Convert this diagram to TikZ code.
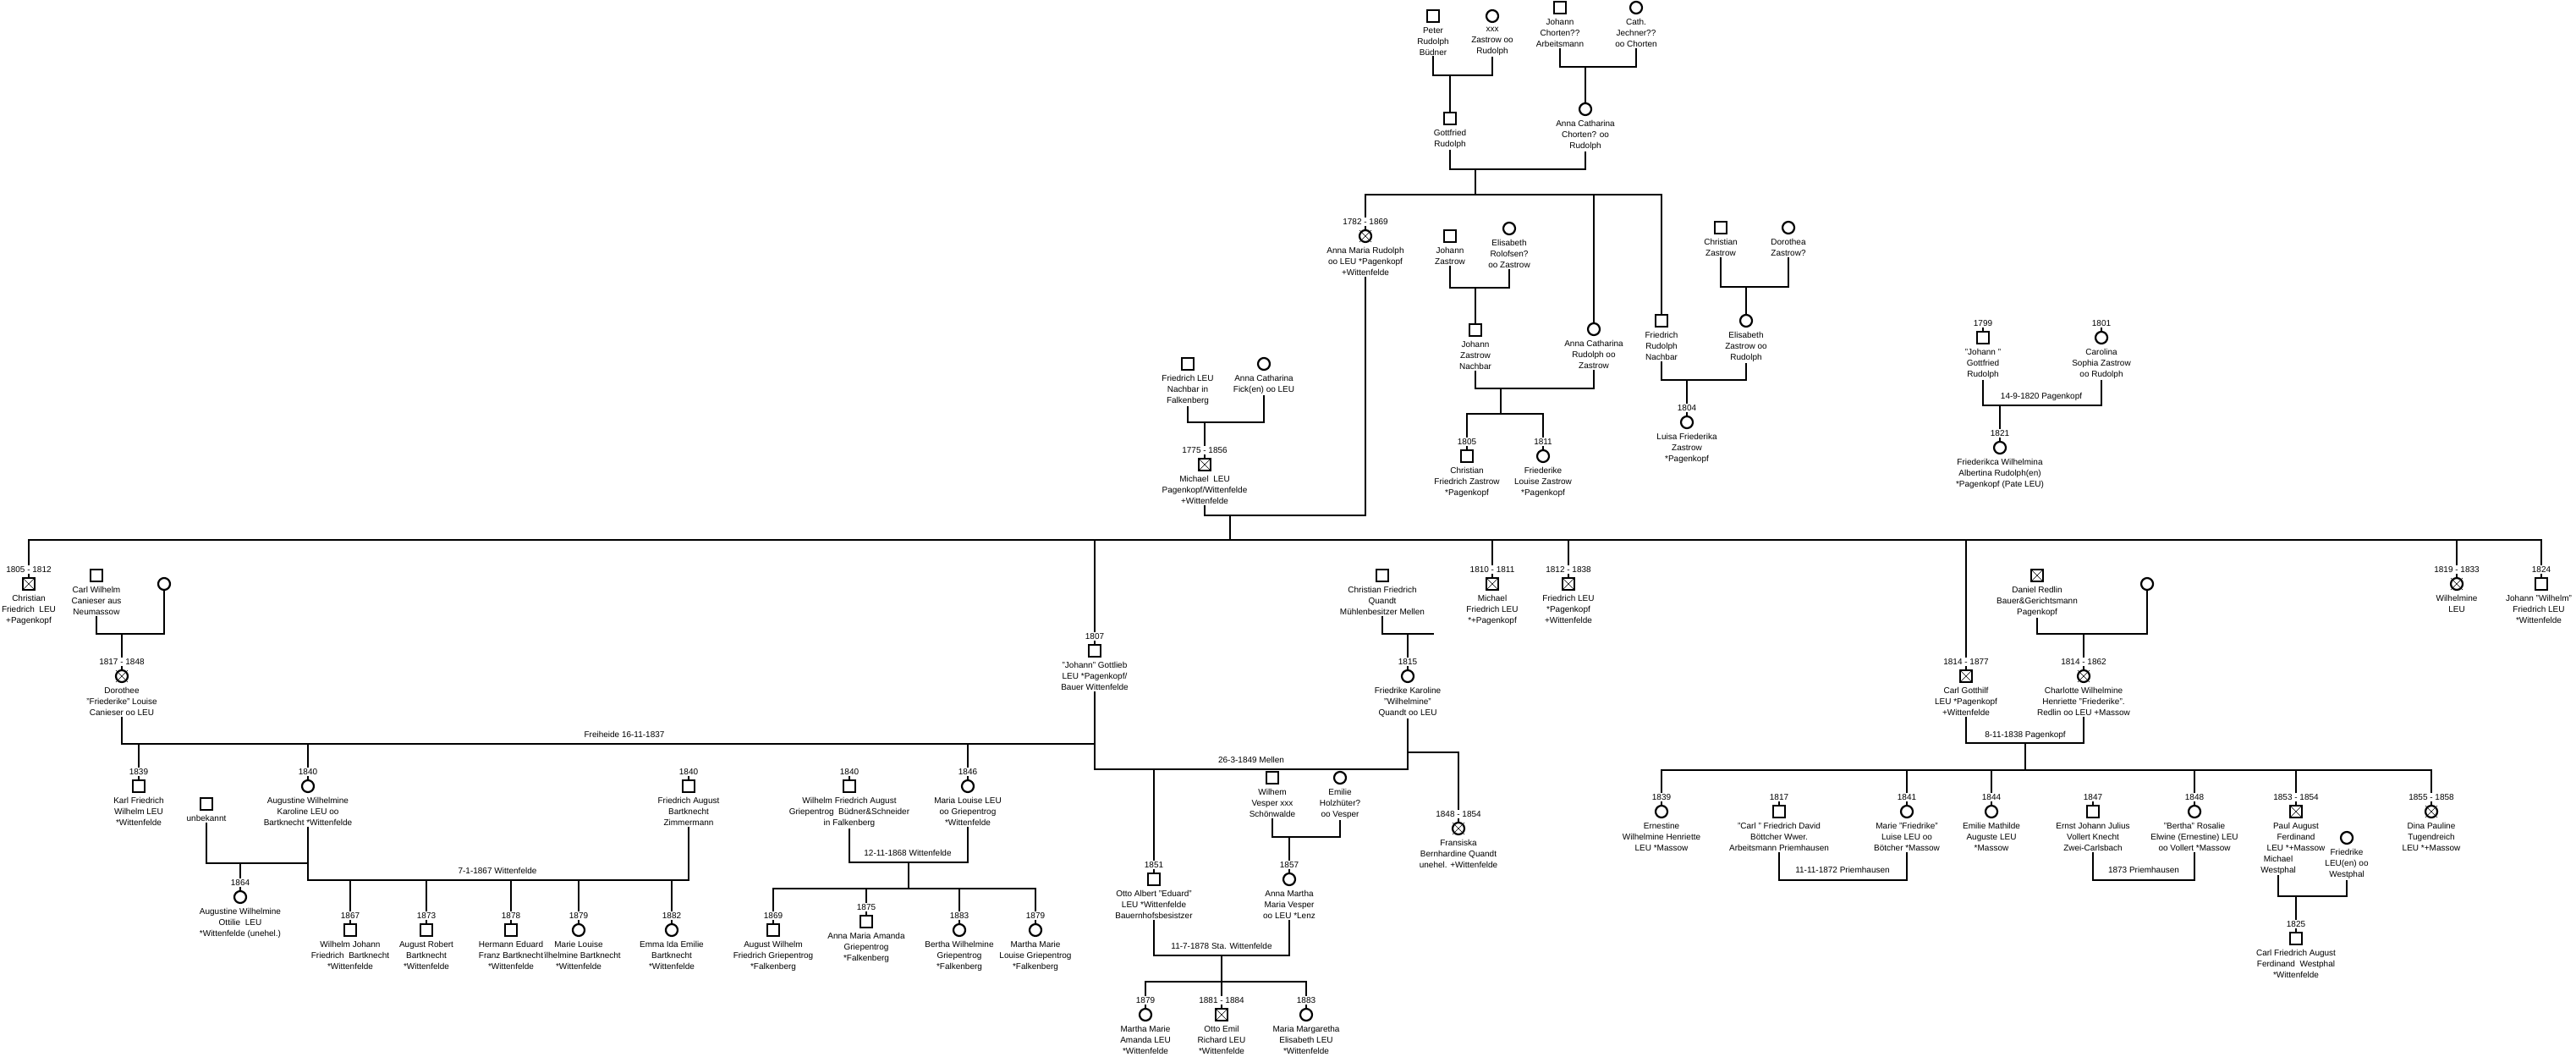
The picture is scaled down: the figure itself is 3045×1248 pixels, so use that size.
\documentclass[tikz,border=0pt]{standalone}
\usepackage{fontspec}
\setmainfont{Liberation Sans}
\usetikzlibrary{positioning}
\newcommand{\kreuz}[1]{\draw[kreuz] ([shift={(-7,-7)}]#1.center) -- ([shift={(7,7)}]#1.center) ([shift={(-7,7)}]#1.center) -- ([shift={(7,-7)}]#1.center);}
\begin{document}
\begin{tikzpicture}[x=1pt,y=1pt,
  mann/.style={draw, rectangle, line width=2.2pt, minimum size=14pt, inner sep=0pt},
  frau/.style={draw, circle, line width=2.2pt, minimum size=14pt, inner sep=0pt},
  info/.style={align=center, inner sep=1pt, font=\fontsize{10}{13}\selectfont},
  jahr/.style={inner sep=1pt, font=\fontsize{10}{13}\selectfont},
  linie/.style={line width=2.5pt},
  kreuz/.style={line width=0.6pt}]
\useasboundingbox (0,0) rectangle (3045,-1248);
\node[mann] (peter) at (1694,-19) {};
\node[info, below=4pt of peter] (peterT) {Peter\\Rudolph\\Büdner};
\node[frau] (xxx) at (1764,-19) {};
\node[info, below=4pt of xxx] (xxxT) {xxx\\Zastrow oo\\Rudolph};
\node[mann] (chorten) at (1844,-9) {};
\node[info, below=4pt of chorten] (chortenT) {Johann\\Chorten??\\Arbeitsmann};
\node[frau] (jechner) at (1934,-9) {};
\node[info, below=4pt of jechner] (jechnerT) {Cath.\\Jechner??\\oo Chorten};
\node[mann] (gottfried) at (1714,-140) {};
\node[info, below=4pt of gottfried] (gottfriedT) {Gottfried\\Rudolph};
\node[frau] (annaCh) at (1874,-129) {};
\node[info, below=4pt of annaCh] (annaChT) {Anna Catharina\\Chorten? oo\\Rudolph};
\coordinate (jRud) at (1714,-89);
\coordinate (jCho) at (1874,-79);
\coordinate (jGot) at (1744,-200);
\coordinate (bGot) at (1744,-230);
\draw[linie] (peterT.south) |- (jRud) -| (xxxT.south);
\draw[linie] (jRud) -- (gottfried.north);
\draw[linie] (chortenT.south) |- (jCho) -| (jechnerT.south);
\draw[linie] (jCho) -- (annaCh.north);
\draw[linie] (gottfriedT.south) |- (jGot) -| (annaChT.south);
\draw[linie] (jGot) -- (bGot);
\node[frau] (annaMaria) at (1614,-279) {};
\node[jahr, above=4pt of annaMaria] (annaMariaY) {1782 - 1869};
\node[info, below=4pt of annaMaria] (annaMariaT) {Anna Maria Rudolph\\oo LEU *Pagenkopf\\+Wittenfelde};
\kreuz{annaMaria}
\node[frau] (annaCR) at (1884,-389) {};
\node[info, below=4pt of annaCR] (annaCRT) {Anna Catharina\\Rudolph oo\\Zastrow};
\node[mann] (friedR) at (1964,-379) {};
\node[info, below=4pt of friedR] (friedRT) {Friedrich\\Rudolph\\Nachbar};
\draw[linie] (annaMariaY.north) |- (bGot);
\draw[linie] (annaMaria.north) -- (annaMariaY.south);
\draw[linie] (annaCR.north) |- (bGot);
\draw[linie] (friedR.north) |- (bGot);
\node[mann] (jzas) at (1714,-279) {};
\node[info, below=4pt of jzas] (jzasT) {Johann\\Zastrow};
\node[frau] (elisRol) at (1784,-270) {};
\node[info, below=4pt of elisRol] (elisRolT) {Elisabeth\\Rolofsen?\\oo Zastrow};
\coordinate (jZas) at (1744,-340);
\draw[linie] (jzasT.south) |- (jZas) -| (elisRolT.south);
\node[mann] (jzn) at (1744,-390) {};
\node[info, below=4pt of jzn] (jznT) {Johann\\Zastrow\\Nachbar};
\draw[linie] (jZas) -- (jzn.north);
\coordinate (jZN) at (1774,-459);
\coordinate (bZN) at (1774,-489);
\draw[linie] (jznT.south) |- (jZN) -| (annaCRT.south);
\draw[linie] (jZN) -- (bZN);
\node[mann] (chrZ) at (1734,-539) {};
\node[jahr, above=4pt of chrZ] (chrZY) {1805};
\node[info, below=4pt of chrZ] (chrZT) {Christian\\Friedrich Zastrow\\*Pagenkopf};
\node[frau] (frdZ) at (1824,-539) {};
\node[jahr, above=4pt of frdZ] (frdZY) {1811};
\node[info, below=4pt of frdZ] (frdZT) {Friederike\\Louise Zastrow\\*Pagenkopf};
\draw[linie] (chrZY.north) |- (bZN) -| (frdZY.north);
\draw[linie] (chrZ.north) -- (chrZY.south);
\draw[linie] (frdZ.north) -- (frdZY.south);
\node[mann] (chrZa) at (2034,-269) {};
\node[info, below=4pt of chrZa] (chrZaT) {Christian\\Zastrow};
\node[frau] (dorZ) at (2114,-269) {};
\node[info, below=4pt of dorZ] (dorZT) {Dorothea\\Zastrow?};
\coordinate (jCZ) at (2064,-339);
\draw[linie] (chrZaT.south) |- (jCZ) -| (dorZT.south);
\node[frau] (elisZ) at (2064,-379) {};
\node[info, below=4pt of elisZ] (elisZT) {Elisabeth\\Zastrow oo\\Rudolph};
\draw[linie] (jCZ) -- (elisZ.north);
\coordinate (jFR) at (1994,-449);
\draw[linie] (friedRT.south) |- (jFR) -| (elisZT.south);
\node[frau] (luisa) at (1994,-499) {};
\node[jahr, above=4pt of luisa] (luisaY) {1804};
\node[info, below=4pt of luisa] (luisaT) {Luisa Friederika\\Zastrow\\*Pagenkopf};
\draw[linie] (jFR) -- (luisaY.north);
\draw[linie] (luisa.north) -- (luisaY.south);
\node[mann] (jgr) at (2344,-399) {};
\node[jahr, above=4pt of jgr] (jgrY) {1799};
\node[info, below=4pt of jgr] (jgrT) {"Johann "\\Gottfried\\Rudolph};
\draw[linie] (jgr.north) -- (jgrY.south);
\node[frau] (carolina) at (2484,-399) {};
\node[jahr, above=4pt of carolina] (carolinaY) {1801};
\node[info, below=4pt of carolina] (carolinaT) {Carolina\\Sophia Zastrow\\oo Rudolph};
\draw[linie] (carolina.north) -- (carolinaY.south);
\coordinate (jJG) at (2364,-479);
\draw[linie] (jgrT.south) |- (jJG) -| (carolinaT.south);
\node[jahr] (hJG) at (2413,-469) {14-9-1820 Pagenkopf};
\node[frau] (friederikca) at (2364,-529) {};
\node[jahr, above=4pt of friederikca] (friederikcaY) {1821};
\node[info, below=4pt of friederikca] (friederikcaT) {Friederikca Wilhelmina\\Albertina Rudolph(en)\\*Pagenkopf (Pate LEU)};
\draw[linie] (jJG) -- (friederikcaY.north);
\draw[linie] (friederikca.north) -- (friederikcaY.south);
\node[mann] (fleu) at (1404,-430) {};
\node[info, below=4pt of fleu] (fleuT) {Friedrich LEU\\Nachbar in\\Falkenberg};
\node[frau] (acf) at (1494,-430) {};
\node[info, below=4pt of acf] (acfT) {Anna Catharina\\Fick(en) oo LEU};
\coordinate (jFL) at (1424,-499);
\draw[linie] (fleuT.south) |- (jFL) -| (acfT.south);
\node[mann] (michael) at (1424,-549) {};
\node[jahr, above=4pt of michael] (michaelY) {1775 - 1856};
\node[info, below=4pt of michael] (michaelT) {Michael\ \ LEU\\Pagenkopf/Wittenfelde\\+Wittenfelde};
\kreuz{michael}
\draw[linie] (jFL) -- (michaelY.north);
\draw[linie] (michael.north) -- (michaelY.south);
\coordinate (jLEU) at (1454,-609);
\coordinate (bLEU) at (1454,-638);
\draw[linie] (michaelT.south) |- (jLEU) -| (annaMariaT.south);
\draw[linie] (jLEU) -- (bLEU);
\node[mann] (christianL) at (34,-690) {};
\node[jahr, above=4pt of christianL] (christianLY) {1805 - 1812};
\node[info, below=4pt of christianL] (christianLT) {Christian\\Friedrich\ \ LEU\\+Pagenkopf};
\kreuz{christianL}
\node[mann] (gottlieb) at (1294,-769) {};
\node[jahr, above=4pt of gottlieb] (gottliebY) {1807};
\node[info, below=4pt of gottlieb] (gottliebT) {"Johann" Gottlieb\\LEU *Pagenkopf/\\Bauer Wittenfelde};
\node[mann] (michaelF) at (1764,-690) {};
\node[jahr, above=4pt of michaelF] (michaelFY) {1810 - 1811};
\node[info, below=4pt of michaelF] (michaelFT) {Michael\\Friedrich LEU\\*+Pagenkopf};
\kreuz{michaelF}
\node[mann] (friedL) at (1854,-690) {};
\node[jahr, above=4pt of friedL] (friedLY) {1812 - 1838};
\node[info, below=4pt of friedL] (friedLT) {Friedrich LEU\\*Pagenkopf\\+Wittenfelde};
\kreuz{friedL}
\node[mann] (carlG) at (2324,-799) {};
\node[jahr, above=4pt of carlG] (carlGY) {1814 - 1877};
\node[info, below=4pt of carlG] (carlGT) {Carl Gotthilf\\LEU *Pagenkopf\\+Wittenfelde};
\kreuz{carlG}
\node[frau] (wilhelmine) at (2904,-690) {};
\node[jahr, above=4pt of wilhelmine] (wilhelmineY) {1819 - 1833};
\node[info, below=4pt of wilhelmine] (wilhelmineT) {Wilhelmine\\LEU};
\kreuz{wilhelmine}
\node[mann] (johannW) at (3004,-690) {};
\node[jahr, above=4pt of johannW] (johannWY) {1824};
\node[info, below=4pt of johannW, xshift=-3pt] (johannWT) {Johann "Wilhelm"\\Friedrich LEU\\*Wittenfelde};
\draw[linie] (christianLY.north) |- (bLEU) -| (johannWY.north);
\draw[linie] (gottliebY.north) |- (bLEU);
\draw[linie] (michaelFY.north) |- (bLEU);
\draw[linie] (friedLY.north) |- (bLEU);
\draw[linie] (carlGY.north) |- (bLEU);
\draw[linie] (wilhelmineY.north) |- (bLEU);
\draw[linie] (christianL.north) -- (christianLY.south);
\draw[linie] (gottlieb.north) -- (gottliebY.south);
\draw[linie] (michaelF.north) -- (michaelFY.south);
\draw[linie] (friedL.north) -- (friedLY.south);
\draw[linie] (carlG.north) -- (carlGY.south);
\draw[linie] (wilhelmine.north) -- (wilhelmineY.south);
\draw[linie] (johannW.north) -- (johannWY.south);
\node[mann] (carlW) at (114,-680) {};
\node[info, below=4pt of carlW] (carlWT) {Carl Wilhelm\\Canieser aus\\Neumassow};
\node[frau] (canW) at (194,-690) {};
\coordinate (jCan) at (144,-749);
\draw[linie] (carlWT.south) |- (jCan) -| (canW.south);
\node[frau] (dorothee) at (144,-799) {};
\node[jahr, above=4pt of dorothee] (dorotheeY) {1817 - 1848};
\node[info, below=4pt of dorothee] (dorotheeT) {Dorothee\\"Friederike" Louise\\Canieser oo LEU};
\kreuz{dorothee}
\draw[linie] (jCan) -- (dorotheeY.north);
\draw[linie] (dorothee.north) -- (dorotheeY.south);
\node[mann] (cfq) at (1634,-680) {};
\node[info, below=4pt of cfq] (cfqT) {Christian Friedrich\\Quandt\\Mühlenbesitzer Mellen};
\coordinate (jQu) at (1664,-749);
\coordinate (qEnd) at (1695,-749);
\draw[linie] (cfqT.south) |- (qEnd);
\node[frau] (friedrike) at (1664,-799) {};
\node[jahr, above=4pt of friedrike] (friedrikeY) {1815};
\node[info, below=4pt of friedrike] (friedrikeT) {Friedrike Karoline\\"Wilhelmine"\\Quandt oo LEU};
\draw[linie] (jQu) -- (friedrikeY.north);
\draw[linie] (friedrike.north) -- (friedrikeY.south);
\coordinate (jFrei) at (1294,-879);
\coordinate (jMel) at (1364,-909);
\draw[linie] (dorotheeT.south) |- (jFrei);
\draw[linie] (gottliebT.south) |- (jMel) -| (friedrikeT.south);
\node[jahr] (hFrei) at (738,-868) {Freiheide 16-11-1837};
\node[jahr] (hMel) at (1479,-898) {26-3-1849 Mellen};
\coordinate (jFra) at (1664,-889);
\node[frau] (fransiska) at (1724,-979) {};
\node[jahr, above=4pt of fransiska] (fransiskaY) {1848 - 1854};
\node[info, below=4pt of fransiska] (fransiskaT) {Fransiska\\Bernhardine Quandt\\unehel. +Wittenfelde};
\kreuz{fransiska}
\draw[linie] (jFra) -| (fransiskaY.north);
\draw[linie] (fransiska.north) -- (fransiskaY.south);
\node[mann] (karl) at (164,-929) {};
\node[jahr, above=4pt of karl] (karlY) {1839};
\node[info, below=4pt of karl] (karlT) {Karl Friedrich\\Wilhelm LEU\\*Wittenfelde};
\node[frau] (augW) at (364,-929) {};
\node[jahr, above=4pt of augW] (augWY) {1840};
\node[info, below=4pt of augW] (augWT) {Augustine Wilhelmine\\Karoline LEU oo\\Bartknecht *Wittenfelde};
\node[frau] (mariaL) at (1144,-929) {};
\node[jahr, above=4pt of mariaL] (mariaLY) {1846};
\node[info, below=4pt of mariaL] (mariaLT) {Maria Louise LEU\\oo Griepentrog\\*Wittenfelde};
\draw[linie] (karlY.north) |- (jFrei);
\draw[linie] (augWY.north) |- (jFrei);
\draw[linie] (mariaLY.north) |- (jFrei);
\draw[linie] (karl.north) -- (karlY.south);
\draw[linie] (augW.north) -- (augWY.south);
\draw[linie] (mariaL.north) -- (mariaLY.south);
\node[mann] (unbek) at (244,-950) {};
\node[info, below=4pt of unbek] (unbekT) {unbekannt};
\coordinate (jUnb) at (284,-1020);
\draw[linie] (unbekT.south) |- (jUnb) -| (augWT.south);
\node[frau] (augO) at (284,-1060) {};
\node[jahr, above=4pt of augO] (augOY) {1864};
\node[info, below=4pt of augO] (augOT) {Augustine Wilhelmine\\Ottilie\ \ LEU\\*Wittenfelde (unehel.)};
\draw[linie] (jUnb) -- (augOY.north);
\draw[linie] (augO.north) -- (augOY.south);
\node[mann] (fab) at (814,-929) {};
\node[jahr, above=4pt of fab] (fabY) {1840};
\node[info, below=4pt of fab] (fabT) {Friedrich August\\Bartknecht\\Zimmermann};
\draw[linie] (fab.north) -- (fabY.south);
\coordinate (jBart) at (588,-1040);
\draw[linie] (augWT.south) |- (jBart) -| (fabT.south);
\node[jahr] (hBart) at (588,-1029) {7-1-1867 Wittenfelde};
\node[mann] (wj) at (414,-1099) {};
\node[jahr, above=4pt of wj] (wjY) {1867};
\node[info, below=4pt of wj] (wjT) {Wilhelm Johann\\Friedrich\ \ Bartknecht\\*Wittenfelde};
\node[mann] (ar) at (504,-1099) {};
\node[jahr, above=4pt of ar] (arY) {1873};
\node[info, below=4pt of ar] (arT) {August Robert\\Bartknecht\\*Wittenfelde};
\node[frau] (mlb) at (684,-1099) {};
\node[jahr, above=4pt of mlb] (mlbY) {1879};
\node[info, below=4pt of mlb] (mlbT) {Marie Louise\\Wilhelmine Bartknecht\\*Wittenfelde};
\node[mann] (he) at (604,-1099) {};
\node[jahr, above=4pt of he] (heY) {1878};
\node[info, fill=white, below=4pt of he] (heT) {Hermann Eduard\\Franz Bartknecht\\*Wittenfelde};
\node[frau] (ei) at (794,-1099) {};
\node[jahr, above=4pt of ei] (eiY) {1882};
\node[info, below=4pt of ei] (eiT) {Emma Ida Emilie\\Bartknecht\\*Wittenfelde};
\draw[linie] (wjY.north) |- (jBart);
\draw[linie] (arY.north) |- (jBart);
\draw[linie] (heY.north) |- (jBart);
\draw[linie] (mlbY.north) |- (jBart);
\draw[linie] (eiY.north) |- (jBart);
\draw[linie] (wj.north) -- (wjY.south);
\draw[linie] (ar.north) -- (arY.south);
\draw[linie] (he.north) -- (heY.south);
\draw[linie] (mlb.north) -- (mlbY.south);
\draw[linie] (ei.north) -- (eiY.south);
\node[mann] (wfa) at (1004,-929) {};
\node[jahr, above=4pt of wfa] (wfaY) {1840};
\node[info, below=4pt of wfa] (wfaT) {Wilhelm Friedrich August\\Griepentrog\ \ Büdner\&Schneider\\in Falkenberg};
\draw[linie] (wfa.north) -- (wfaY.south);
\coordinate (jGri) at (1074,-1019);
\coordinate (bGri) at (1074,-1050);
\draw[linie] (wfaT.south) |- (jGri) -| (mariaLT.south);
\node[jahr] (hGri) at (1073,-1008) {12-11-1868 Wittenfelde};
\draw[linie] (jGri) -- (bGri);
\node[mann] (aw) at (914,-1099) {};
\node[jahr, above=4pt of aw] (awY) {1869};
\node[info, below=4pt of aw] (awT) {August Wilhelm\\Friedrich Griepentrog\\*Falkenberg};
\node[mann] (ama) at (1024,-1089) {};
\node[jahr, above=4pt of ama] (amaY) {1875};
\node[info, below=4pt of ama] (amaT) {Anna Maria Amanda\\Griepentrog\\*Falkenberg};
\node[frau] (bw) at (1134,-1099) {};
\node[jahr, above=4pt of bw] (bwY) {1883};
\node[info, below=4pt of bw] (bwT) {Bertha Wilhelmine\\Griepentrog\\*Falkenberg};
\node[frau] (mm) at (1224,-1099) {};
\node[jahr, above=4pt of mm] (mmY) {1879};
\node[info, below=4pt of mm] (mmT) {Martha Marie\\Louise Griepentrog\\*Falkenberg};
\draw[linie] (awY.north) |- (bGri) -| (mmY.north);
\draw[linie] (amaY.north) |- (bGri);
\draw[linie] (bwY.north) |- (bGri);
\draw[linie] (aw.north) -- (awY.south);
\draw[linie] (ama.north) -- (amaY.south);
\draw[linie] (bw.north) -- (bwY.south);
\draw[linie] (mm.north) -- (mmY.south);
\node[mann] (vesper) at (1504,-919) {};
\node[info, below=4pt of vesper] (vesperT) {Wilhem\\Vesper xxx\\Schönwalde};
\node[frau] (emilie) at (1584,-919) {};
\node[info, below=4pt of emilie] (emilieT) {Emilie\\Holzhüter?\\oo Vesper};
\coordinate (jVes) at (1524,-989);
\draw[linie] (vesperT.south) |- (jVes) -| (emilieT.south);
\node[mann] (otto) at (1364,-1039) {};
\node[jahr, above=4pt of otto] (ottoY) {1851};
\node[info, below=4pt of otto] (ottoT) {Otto Albert "Eduard"\\LEU *Wittenfelde\\Bauernhofsbesistzer};
\node[frau] (annaM) at (1524,-1039) {};
\node[jahr, above=4pt of annaM] (annaMY) {1857};
\node[info, below=4pt of annaM] (annaMT) {Anna Martha\\Maria Vesper\\oo LEU *Lenz};
\draw[linie] (jMel) -- (ottoY.north);
\draw[linie] (jVes) -- (annaMY.north);
\draw[linie] (otto.north) -- (ottoY.south);
\draw[linie] (annaM.north) -- (annaMY.south);
\coordinate (jOtto) at (1444,-1129);
\coordinate (bOtto) at (1444,-1160);
\draw[linie] (ottoT.south) |- (jOtto) -| (annaMT.south);
\node[jahr] (hOtto) at (1444,-1118) {11-7-1878 Sta. Wittenfelde};
\draw[linie] (jOtto) -- (bOtto);
\node[frau] (mma) at (1354,-1199) {};
\node[jahr, above=4pt of mma] (mmaY) {1879};
\node[info, below=4pt of mma] (mmaT) {Martha Marie\\Amanda LEU\\*Wittenfelde};
\node[mann] (oer) at (1444,-1199) {};
\node[jahr, above=4pt of oer] (oerY) {1881 - 1884};
\node[info, below=4pt of oer] (oerT) {Otto Emil\\Richard LEU\\*Wittenfelde};
\kreuz{oer}
\node[frau] (mme) at (1544,-1199) {};
\node[jahr, above=4pt of mme] (mmeY) {1883};
\node[info, below=4pt of mme] (mmeT) {Maria Margaretha\\Elisabeth LEU\\*Wittenfelde};
\draw[linie] (mmaY.north) |- (bOtto) -| (mmeY.north);
\draw[linie] (oerY.north) -- (bOtto);
\draw[linie] (mma.north) -- (mmaY.south);
\draw[linie] (oer.north) -- (oerY.south);
\draw[linie] (mme.north) -- (mmeY.south);
\node[mann] (daniel) at (2408,-680) {};
\node[info, below=4pt of daniel] (danielT) {Daniel Redlin\\Bauer\&Gerichtsmann\\Pagenkopf};
\kreuz{daniel}
\node[frau] (redW) at (2538,-690) {};
\coordinate (jRed) at (2463,-749);
\draw[linie] (danielT.south) |- (jRed) -| (redW.south);
\node[frau] (charlotte) at (2463,-799) {};
\node[jahr, above=4pt of charlotte] (charlotteY) {1814 - 1862};
\node[info, below=4pt of charlotte] (charlotteT) {Charlotte Wilhelmine\\Henriette "Friederike".\\Redlin oo LEU +Massow};
\kreuz{charlotte}
\draw[linie] (jRed) -- (charlotteY.north);
\draw[linie] (charlotte.north) -- (charlotteY.south);
\coordinate (jCG) at (2394,-878);
\coordinate (bCG) at (2394,-910);
\draw[linie] (carlGT.south) |- (jCG) -| (charlotteT.south);
\node[jahr] (hCG) at (2394,-869) {8-11-1838 Pagenkopf};
\draw[linie] (jCG) -- (bCG);
\node[frau] (ernestine) at (1964,-959) {};
\node[jahr, above=4pt of ernestine] (ernestineY) {1839};
\node[info, below=4pt of ernestine] (ernestineT) {Ernestine\\Wilhelmine Henriette\\LEU *Massow};
\node[mann] (carlB) at (2103,-959) {};
\node[jahr, above=4pt of carlB] (carlBY) {1817};
\node[info, below=4pt of carlB] (carlBT) {"Carl " Friedrich David\\Böttcher Wwer.\\Arbeitsmann Priemhausen};
\node[frau] (marieF) at (2254,-959) {};
\node[jahr, above=4pt of marieF] (marieFY) {1841};
\node[info, below=4pt of marieF] (marieFT) {Marie "Friedrike"\\Luise LEU oo\\Bötcher *Massow};
\node[frau] (emilieM) at (2354,-959) {};
\node[jahr, above=4pt of emilieM] (emilieMY) {1844};
\node[info, below=4pt of emilieM] (emilieMT) {Emilie Mathilde\\Auguste LEU\\*Massow};
\node[mann] (ernst) at (2474,-959) {};
\node[jahr, above=4pt of ernst] (ernstY) {1847};
\node[info, below=4pt of ernst] (ernstT) {Ernst Johann Julius\\Vollert Knecht\\Zwei-Carlsbach};
\node[frau] (bertha) at (2594,-959) {};
\node[jahr, above=4pt of bertha] (berthaY) {1848};
\node[info, below=4pt of bertha] (berthaT) {"Bertha" Rosalie\\Elwine (Ernestine) LEU\\oo Vollert *Massow};
\node[mann] (paul) at (2714,-959) {};
\node[jahr, above=4pt of paul] (paulY) {1853 - 1854};
\node[info, below=4pt of paul] (paulT) {Paul August\\Ferdinand\\LEU *+Massow};
\kreuz{paul}
\node[frau] (dina) at (2874,-959) {};
\node[jahr, above=4pt of dina] (dinaY) {1855 - 1858};
\node[info, below=4pt of dina] (dinaT) {Dina Pauline\\Tugendreich\\LEU *+Massow};
\kreuz{dina}
\draw[linie] (ernestineY.north) |- (bCG) -| (dinaY.north);
\draw[linie] (marieFY.north) |- (bCG);
\draw[linie] (emilieMY.north) |- (bCG);
\draw[linie] (berthaY.north) |- (bCG);
\draw[linie] (paulY.north) |- (bCG);
\draw[linie] (ernestine.north) -- (ernestineY.south);
\draw[linie] (carlB.north) -- (carlBY.south);
\draw[linie] (marieF.north) -- (marieFY.south);
\draw[linie] (emilieM.north) -- (emilieMY.south);
\draw[linie] (ernst.north) -- (ernstY.south);
\draw[linie] (bertha.north) -- (berthaY.south);
\draw[linie] (paul.north) -- (paulY.south);
\draw[linie] (dina.north) -- (dinaY.south);
\coordinate (jCB) at (2178,-1040);
\draw[linie] (carlBT.south) |- (jCB) -| (marieFT.south);
\node[jahr] (hCB) at (2178,-1028) {11-11-1872 Priemhausen};
\coordinate (jEB) at (2534,-1040);
\draw[linie] (ernstT.south) |- (jEB) -| (berthaT.south);
\node[jahr] (hEB) at (2534,-1028) {1873 Priemhausen};
\node[info] (michW) at (2693,-1022) {Michael\\Westphal};
\node[frau] (friedW) at (2774,-990) {};
\node[info, below=4pt of friedW] (friedWT) {Friedrike\\LEU(en) oo\\Westphal};
\coordinate (jWest) at (2714,-1059);
\draw[linie] (michW.south) |- (jWest) -| (friedWT.south);
\node[mann] (carlFA) at (2714,-1109) {};
\node[jahr, above=4pt of carlFA] (carlFAY) {1825};
\node[info, below=4pt of carlFA] (carlFAT) {Carl Friedrich August\\Ferdinand\ \ Westphal\\*Wittenfelde};
\draw[linie] (jWest) -- (carlFAY.north);
\draw[linie] (carlFA.north) -- (carlFAY.south);
\end{tikzpicture}
\end{document}
